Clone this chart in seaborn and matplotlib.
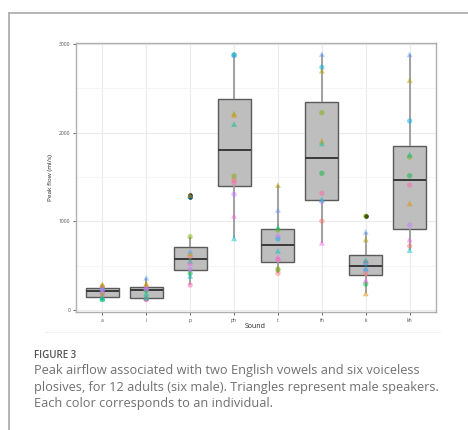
import matplotlib
matplotlib.use("Agg")
import matplotlib.pyplot as plt
import seaborn as sns
import pandas as pd
import numpy as np
from matplotlib.lines import Line2D

sounds = ["a", "i", "p", "ph", "t", "th", "k", "kh"]
speakers = ["S01", "S02", "S03", "S04", "S05", "S06", "S07", "S08", "S09", "S10", "S11", "S12"]
speaker_colors = ["#F8766D", "#DE8C00", "#B79F00", "#7CAE00", "#00BA38", "#00C08B",
                  "#00BFC4", "#00B4F0", "#619CFF", "#C77CFF", "#F564E3", "#FF64B0"]
speaker_sex = ["F", "M", "M", "F", "F", "M", "M", "F", "M", "F", "M", "F"]

flow_a = [152, 280, 292, 190, 118, 130, 145, 235, 245, 226, 210, 262]
flow_i = [122, 300, 290, 220, 130, 190, 140, 232, 365, 240, 255, 118]
flow_p = [602, 1297, 640, 827, 414, 556, 384, 1275, 665, 459, 530, 282]
flow_ph = [1466, 2200, 2218, 1511, 2878, 2098, 809, 2876, 2880, 1305, 1064, 1436]
flow_t = [414, 470, 1410, 902, 459, 933, 669, 801, 1128, 835, 594, 572]
flow_th = [1004, 1910, 2700, 2226, 1542, 1880, 1250, 2738, 2888, 1222, 759, 1316]
flow_k = [410, 188, 797, 1060, 293, 564, 470, 527, 883, 450, 338, 540]
flow_kh = [722, 1203, 2594, 1726, 1515, 1756, 677, 2132, 2884, 959, 797, 1410]

flows = [flow_a, flow_i, flow_p, flow_ph, flow_t, flow_th, flow_k, flow_kh]
rows = []
for s, vals in zip(sounds, flows):
    for spk, sex, v in zip(speakers, speaker_sex, vals):
        rows.append({"Sound": s, "speaker": spk, "sex": sex, "flow": v})
df = pd.DataFrame(rows)
palette = dict(zip(speakers, speaker_colors))

sns.set_theme(style="white")
plt.rcParams['font.family'] = ['Open Sans', 'DejaVu Sans']

fig = plt.figure(figsize=(4.68, 4.30), dpi=100)
W, H = 468, 430
ax = fig.add_axes([76 / W, 1 - 312 / H, 360 / W, 269 / H])

sns.boxplot(data=df, x="Sound", y="flow", order=sounds, ax=ax, width=0.75,
            color="#BEBEBE", saturation=1, linewidth=1.0, linecolor="#5A5A5A",
            whiskerprops=dict(color="#9A9A9A", linewidth=1.3),
            capprops=dict(linewidth=0),
            medianprops=dict(color="#3A3A3A", linewidth=1.4),
            flierprops=dict(marker="o", markersize=2.2, markerfacecolor="black",
                            markeredgecolor="black"),
            zorder=2)

for sex, mk, sz in [("F", "o", 3.8), ("M", "^", 4.2)]:
    sub = df[df["sex"] == sex]
    sns.stripplot(data=sub, x="Sound", y="flow", order=sounds, hue="speaker",
                  palette=palette, marker=mk, size=sz, jitter=False, alpha=0.5,
                  linewidth=0, ax=ax, legend=False, zorder=3)

ax.set_xlim(-0.6, 7.6)
ax.set_ylim(-22, 3012)
ax.set_yticks([0, 1000, 2000, 3000])
ax.set_yticks([500, 1500, 2500], minor=True)
ax.grid(True, which="major", color="#EBEBEB", linewidth=0.8, zorder=0)
ax.grid(True, which="minor", axis="y", color="#F4F4F4", linewidth=0.6, zorder=0)
ax.set_axisbelow(True)
for sp in ax.spines.values():
    sp.set_color("#B0B0B0")
    sp.set_linewidth(1.0)
ax.tick_params(axis="both", which="major", labelsize=3.6, labelcolor="#4D4D4D",
               length=2, width=0.6, color="#4D4D4D", pad=2, left=True, bottom=True)
ax.tick_params(axis="y", which="minor", length=0)
ax.set_xlabel("Sound", fontsize=5, color="#222222", labelpad=2)
ax.set_ylabel("Peak flow (ml/s)", fontsize=4.6, color="#222222", labelpad=4)
ax.xaxis.set_label_coords((255 - 76) / 360, -0.04)

# page frame
fig.add_artist(Line2D([9 / W, 9 / W], [0, 1 - 13 / H], color="#A8A8A8", linewidth=1.2))
fig.add_artist(Line2D([9 / W, 1], [1 - 13 / H, 1 - 13 / H], color="#A8A8A8", linewidth=1.2))
fig.add_artist(Line2D([45 / W, 440 / W], [1 - 332 / H, 1 - 332 / H], color="#F2F2F2", linewidth=0.8))

fig.text(34 / W, 1 - 355 / H, "FIGURE 3", fontsize=7, fontweight="semibold",
         color="#555555", va="center", ha="left")
caption = ("Peak airflow associated with two English vowels and six voiceless\n"
           "plosives, for 12 adults (six male). Triangles represent male speakers.\n"
           "Each color corresponds to an individual.")
fig.text(34 / W, 1 - 364 / H, caption, fontsize=9.2, color="#707070",
         va="top", ha="left", linespacing=1.36)

fig.savefig("out.png", dpi=100)
